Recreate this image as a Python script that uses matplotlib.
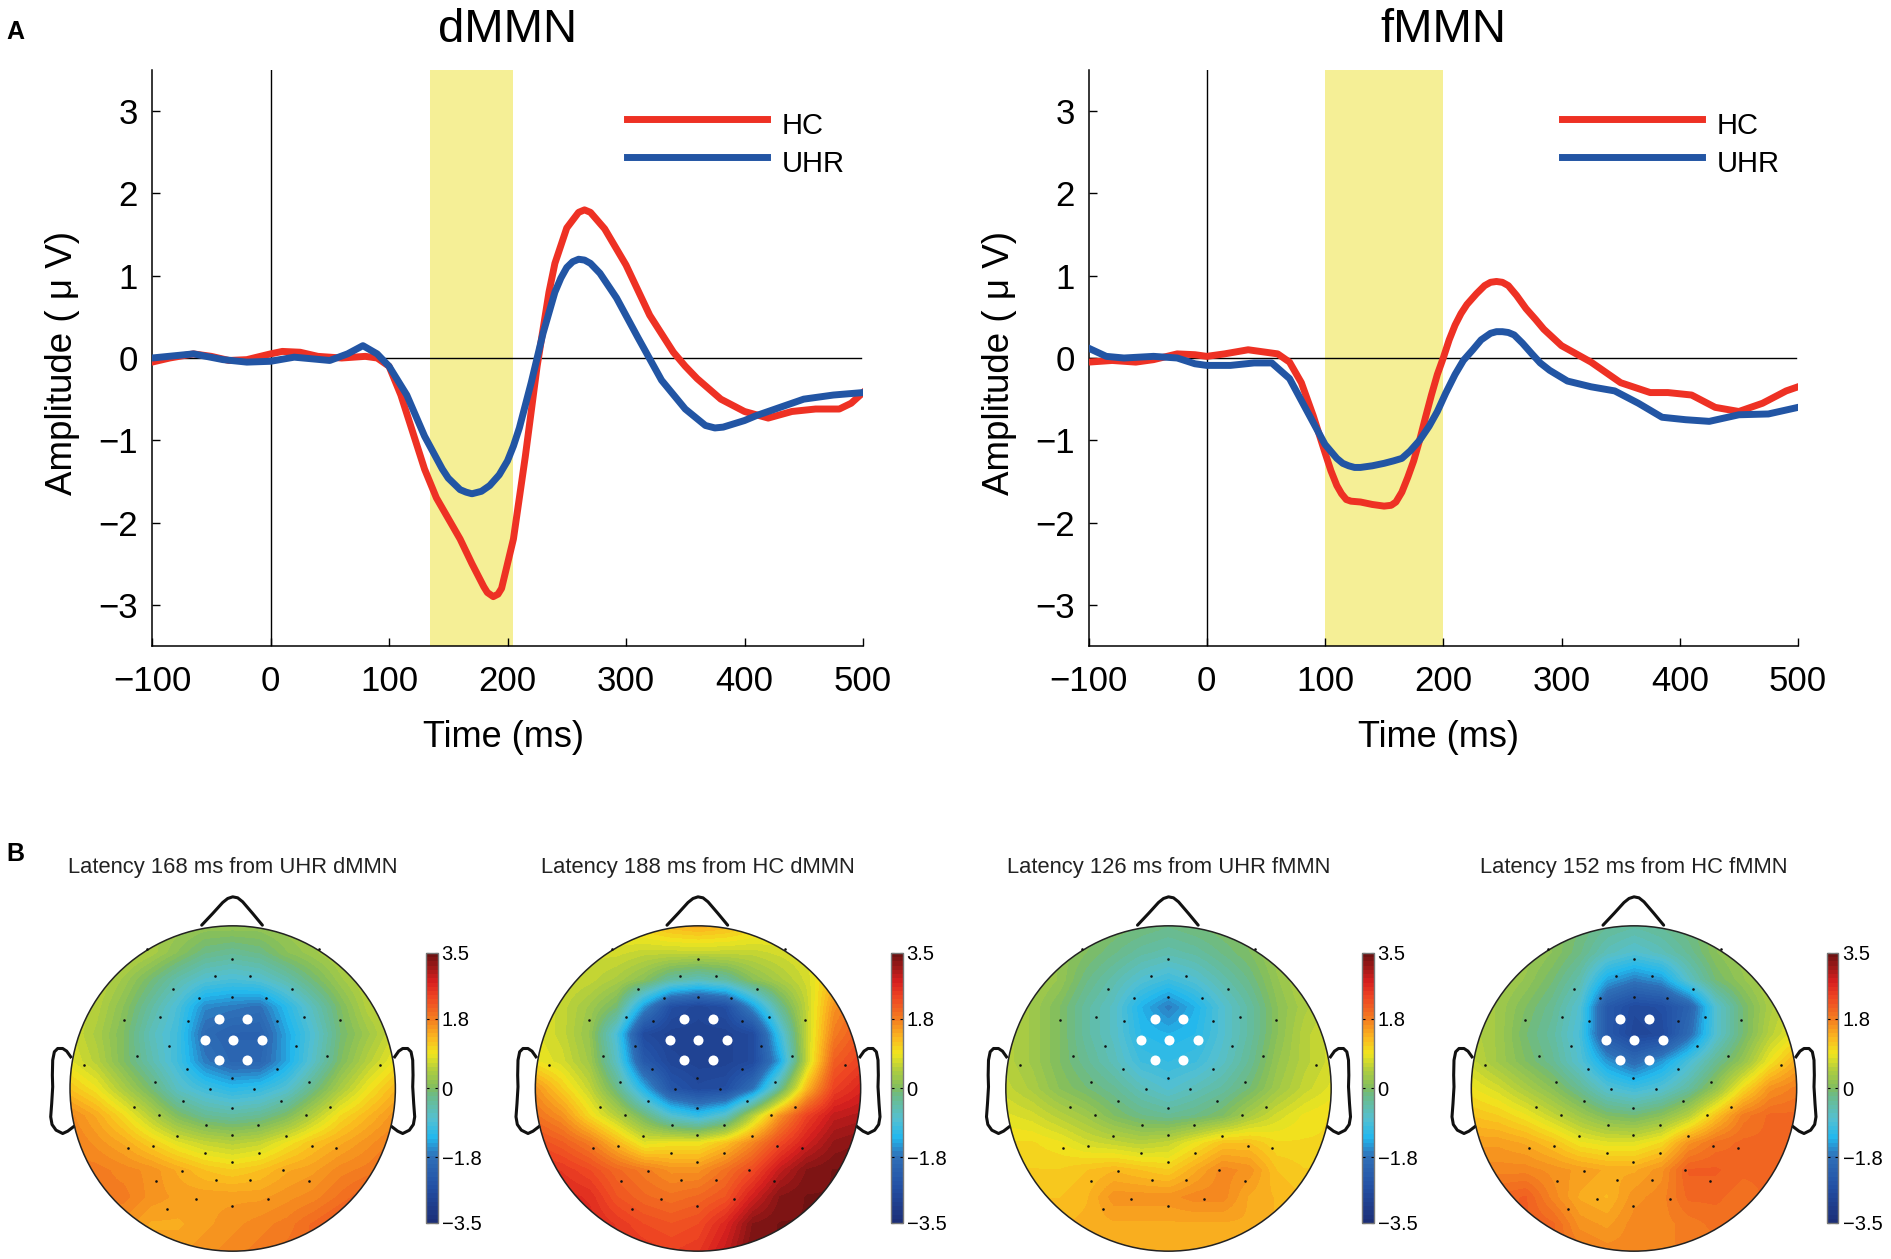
import matplotlib

matplotlib.use("Agg")

import matplotlib.pyplot as plt
import numpy as np
from matplotlib.colors import LinearSegmentedColormap
from matplotlib.patches import Circle

plt.rcParams["font.family"] = ["Liberation Sans", "DejaVu Sans"]

FIG_W = 1891
FIG_H = 1259

## waveforms
DMMN_HC_T = [-100, -85, -65, -50, -35, -20, 0, 10, 25, 40, 60, 80, 90, 100, 110, 120, 130, 140, 150, 160, 170, 180, 183, 188, 192, 195, 205, 215, 225, 235, 240, 250, 260, 265, 270, 282, 300, 320, 340, 350, 360, 380, 400, 420, 440, 460, 480, 490, 500]
DMMN_HC = [-0.05, 0, 0.05, 0.02, -0.03, -0.02, 0.05, 0.08, 0.07, 0.02, 0, 0.02, 0, -0.1, -0.45, -0.9, -1.35, -1.7, -1.95, -2.2, -2.5, -2.78, -2.85, -2.9, -2.87, -2.8, -2.2, -1.2, -0.1, 0.8, 1.15, 1.58, 1.77, 1.8, 1.77, 1.57, 1.13, 0.52, 0.07, -0.1, -0.25, -0.5, -0.65, -0.73, -0.65, -0.62, -0.62, -0.55, -0.42]
DMMN_UHR_T = [-100, -65, -40, -20, 0, 20, 50, 65, 78, 90, 100, 115, 130, 145, 150, 160, 165, 170, 178, 185, 193, 200, 205, 210, 220, 230, 240, 245, 250, 255, 260, 265, 270, 278, 292, 310, 330, 350, 367, 375, 382, 400, 410, 430, 450, 475, 500]
DMMN_UHR = [0, 0.05, -0.02, -0.05, -0.04, 0.01, -0.03, 0.05, 0.15, 0.05, -0.1, -0.45, -0.95, -1.35, -1.46, -1.6, -1.63, -1.65, -1.62, -1.55, -1.42, -1.25, -1.07, -0.85, -0.3, 0.3, 0.8, 0.97, 1.1, 1.17, 1.2, 1.19, 1.15, 1.03, 0.73, 0.25, -0.27, -0.62, -0.82, -0.85, -0.84, -0.76, -0.7, -0.6, -0.5, -0.45, -0.42]
FMMN_HC_T = [-100, -80, -60, -45, -25, -10, 0, 15, 35, 60, 70, 80, 90, 100, 105, 110, 114, 118, 122, 130, 140, 150, 156, 160, 165, 170, 175, 180, 185, 190, 195, 200, 205, 210, 215, 220, 228, 235, 240, 245, 250, 255, 262, 270, 278, 285, 300, 325, 350, 375, 390, 410, 430, 450, 470, 490, 500]
FMMN_HC = [-0.05, -0.03, -0.05, -0.02, 0.05, 0.04, 0.02, 0.05, 0.1, 0.05, -0.05, -0.3, -0.7, -1.15, -1.37, -1.55, -1.65, -1.72, -1.74, -1.75, -1.78, -1.8, -1.79, -1.75, -1.63, -1.45, -1.25, -1.0, -0.72, -0.45, -0.2, 0, 0.22, 0.4, 0.54, 0.65, 0.78, 0.88, 0.92, 0.93, 0.92, 0.88, 0.76, 0.6, 0.47, 0.35, 0.15, -0.05, -0.3, -0.42, -0.42, -0.45, -0.6, -0.65, -0.55, -0.4, -0.35]
FMMN_UHR_T = [-100, -85, -70, -45, -25, -10, 0, 20, 40, 55, 70, 85, 100, 110, 115, 120, 125, 130, 140, 150, 158, 165, 172, 180, 188, 195, 202, 210, 217, 225, 232, 240, 245, 250, 255, 260, 267, 275, 282, 290, 305, 325, 345, 365, 385, 405, 425, 450, 475, 500]
FMMN_UHR = [0.12, 0.02, 0, 0.02, 0, -0.07, -0.09, -0.09, -0.06, -0.06, -0.25, -0.65, -1.05, -1.22, -1.28, -1.31, -1.33, -1.33, -1.31, -1.28, -1.25, -1.22, -1.13, -1.0, -0.83, -0.65, -0.43, -0.2, -0.03, 0.1, 0.22, 0.3, 0.32, 0.32, 0.31, 0.28, 0.18, 0.05, -0.06, -0.15, -0.28, -0.35, -0.4, -0.55, -0.72, -0.75, -0.77, -0.69, -0.68, -0.6]

DMMN_WINDOW = [135, 205]
FMMN_WINDOW = [100, 200]

X_TICKS = [-100, 0, 100, 200, 300, 400, 500]
Y_TICKS = [-3, -2, -1, 0, 1, 2, 3]
CBAR_TICKS = [-3.5, -1.8, 0, 1.8, 3.5]

## scalp maps, coarse grid, top row is the front of the head
MAP_UHR_D = [
    [0.5, 0.5, 0.5, 0.4, 0.3, 0.2, 0.2, 0.2, 0.3, 0.4, 0.5, 0.5, 0.5],
    [0.7, 0.7, 0.6, 0.4, 0.1, -0.2, -0.3, -0.2, 0.1, 0.3, 0.5, 0.7, 0.7],
    [0.7, 0.6, 0.3, -0.1, -0.5, -0.8, -0.9, -0.8, -0.5, -0.1, 0.3, 0.6, 0.7],
    [0.7, 0.5, 0.1, -0.4, -0.9, -1.6, -1.7, -1.8, -1.2, -0.6, 0.0, 0.5, 0.7],
    [0.7, 0.4, 0.0, -0.6, -1.0, -1.9, -2.1, -2.1, -1.4, -0.8, -0.1, 0.3, 0.7],
    [0.8, 0.5, 0.0, -0.5, -1.0, -1.7, -2.0, -2.0, -1.4, -0.7, 0.0, 0.5, 0.9],
    [1.2, 0.9, 0.4, -0.1, -0.7, -1.0, -1.2, -1.1, -0.8, -0.2, 0.4, 0.9, 1.3],
    [1.7, 1.4, 1.0, 0.5, 0.0, -0.3, -0.4, -0.3, 0.0, 0.5, 1.0, 1.3, 1.6],
    [1.8, 1.6, 1.4, 1.1, 0.8, 0.6, 0.5, 0.6, 0.9, 1.2, 1.4, 1.6, 1.8],
    [1.8, 1.8, 1.7, 1.6, 1.4, 1.2, 1.1, 1.2, 1.4, 1.5, 1.7, 1.8, 2.0],
    [1.8, 1.8, 1.8, 1.6, 1.5, 1.5, 1.5, 1.5, 1.6, 1.7, 1.9, 2.1, 2.3],
    [1.7, 1.7, 1.6, 1.4, 1.4, 1.5, 1.6, 1.7, 1.8, 2.0, 2.2, 2.3, 2.3],
    [1.6, 1.6, 1.5, 1.5, 1.5, 1.6, 1.7, 1.8, 1.9, 2.0, 2.2, 2.3, 2.3],
]
MAP_HC_D = [
    [1.0, 1.0, 1.0, 1.0, 1.1, 1.3, 1.4, 1.3, 1.1, 1.0, 1.0, 1.0, 1.0],
    [0.8, 0.8, 0.7, 0.7, 0.6, 0.6, 0.6, 0.6, 0.6, 0.7, 0.8, 0.9, 1.0],
    [0.8, 0.7, 0.6, 0.4, 0.1, -0.4, -0.6, -0.4, 0.1, 0.4, 0.7, 1.3, 1.6],
    [0.8, 0.6, 0.3, -0.1, -1.5, -2.6, -2.8, -2.6, -1.5, -0.3, 0.6, 1.6, 2.0],
    [0.8, 0.6, 0.2, -0.9, -2.7, -2.9, -2.9, -2.9, -2.7, -1.0, 0.6, 1.8, 2.2],
    [0.9, 0.7, 0.3, -0.7, -2.3, -2.8, -2.9, -2.9, -2.7, -1.4, 0.6, 2.1, 2.4],
    [1.6, 1.1, 0.6, -0.2, -1.3, -2.4, -2.7, -2.6, -1.8, -0.3, 1.3, 2.4, 2.7],
    [1.9, 1.6, 1.0, 0.5, -0.1, -0.8, -1.1, -0.7, 0.5, 1.6, 2.4, 2.9, 3.0],
    [2.3, 2.1, 1.8, 1.3, 0.8, 0.9, 0.9, 1.2, 1.7, 2.3, 2.8, 3.2, 3.3],
    [2.6, 2.5, 2.3, 2.0, 1.8, 1.6, 1.6, 1.9, 2.3, 2.9, 3.3, 3.4, 3.4],
    [2.7, 2.7, 2.6, 2.2, 2.0, 1.9, 2.0, 2.2, 2.8, 3.3, 3.4, 3.4, 3.4],
    [2.7, 2.7, 2.7, 2.5, 2.3, 2.2, 2.3, 2.7, 3.3, 3.4, 3.4, 3.4, 3.4],
    [2.7, 2.7, 2.7, 2.6, 2.5, 2.4, 2.5, 2.9, 3.4, 3.4, 3.4, 3.4, 3.4],
]
MAP_UHR_F = [
    [0.3, 0.3, 0.2, 0.1, 0.0, -0.1, -0.2, -0.1, 0.0, 0.1, 0.2, 0.3, 0.3],
    [0.5, 0.4, 0.2, 0.0, -0.2, -0.4, -0.5, -0.4, -0.2, 0.0, 0.3, 0.5, 0.5],
    [0.5, 0.4, 0.2, -0.2, -0.5, -0.8, -1.0, -0.8, -0.5, -0.2, 0.2, 0.5, 0.6],
    [0.5, 0.3, 0.0, -0.4, -0.7, -1.3, -1.7, -1.3, -0.8, -0.4, 0.1, 0.4, 0.6],
    [0.5, 0.3, 0.0, -0.4, -0.7, -1.2, -1.3, -1.2, -0.8, -0.4, 0.1, 0.5, 0.7],
    [0.5, 0.3, 0.0, -0.3, -0.6, -1.0, -1.1, -1.0, -0.7, -0.3, 0.2, 0.5, 0.7],
    [0.6, 0.4, 0.1, -0.1, -0.3, -0.6, -0.8, -0.6, -0.4, -0.1, 0.3, 0.6, 0.8],
    [0.8, 0.7, 0.5, 0.3, 0.0, -0.2, -0.3, -0.2, 0.0, 0.4, 0.7, 0.9, 1.0],
    [1.0, 1.0, 0.9, 0.7, 0.6, 0.5, 0.6, 0.9, 1.2, 1.2, 1.0, 1.0, 1.0],
    [1.1, 1.1, 1.1, 1.2, 1.3, 1.2, 1.1, 1.4, 1.7, 1.6, 1.2, 1.1, 1.1],
    [1.2, 1.2, 1.2, 1.3, 1.6, 1.6, 1.6, 1.7, 1.7, 1.4, 1.3, 1.2, 1.2],
    [1.3, 1.3, 1.3, 1.35, 1.4, 1.4, 1.4, 1.4, 1.4, 1.4, 1.3, 1.3, 1.3],
    [1.35, 1.35, 1.35, 1.35, 1.35, 1.35, 1.35, 1.35, 1.35, 1.35, 1.35, 1.35, 1.35],
]
MAP_HC_F = [
    [0.3, 0.3, 0.2, 0.1, -0.1, -0.3, -0.4, -0.3, -0.1, 0.1, 0.2, 0.3, 0.3],
    [0.5, 0.4, 0.3, 0.1, -0.2, -0.6, -0.8, -0.6, -0.3, 0.1, 0.3, 0.5, 0.6],
    [0.5, 0.4, 0.2, -0.1, -0.5, -1.4, -1.7, -1.5, -0.7, -0.1, 0.2, 0.5, 0.7],
    [0.5, 0.3, 0.0, -0.3, -0.8, -2.3, -2.7, -2.6, -2.1, -0.8, -0.1, 0.4, 0.7],
    [0.5, 0.3, -0.1, -0.4, -0.9, -2.3, -2.8, -2.7, -1.9, -0.8, -0.1, 0.5, 0.9],
    [0.6, 0.3, 0.0, -0.3, -0.8, -1.5, -1.9, -1.5, -0.9, -0.3, 0.2, 0.9, 1.4],
    [0.9, 0.7, 0.4, 0.1, -0.3, -0.8, -1.0, -0.8, -0.4, 0.2, 1.0, 1.6, 1.8],
    [1.2, 1.1, 0.9, 0.6, 0.3, 0.0, -0.1, 0.1, 0.5, 1.2, 1.8, 2.0, 2.0],
    [1.5, 1.5, 1.4, 1.2, 0.9, 0.8, 0.8, 1.0, 1.6, 1.9, 2.0, 2.0, 2.1],
    [1.7, 1.7, 1.7, 1.6, 1.5, 1.4, 1.4, 1.6, 2.1, 2.1, 2.0, 2.0, 2.1],
    [1.9, 2.0, 2.1, 1.7, 1.4, 1.3, 1.6, 1.7, 2.0, 2.0, 1.9, 2.0, 2.0],
    [2.1, 2.1, 2.1, 2.0, 1.6, 1.5, 1.7, 1.7, 1.8, 1.9, 1.9, 1.9, 1.9],
    [2.1, 2.1, 2.1, 2.0, 1.8, 1.7, 1.7, 1.7, 1.8, 1.8, 1.8, 1.8, 1.8],
]

MAP_TITLES = [
    "Latency 168 ms from UHR dMMN",
    "Latency 188 ms from HC dMMN",
    "Latency 126 ms from UHR fMMN",
    "Latency 152 ms from HC fMMN",
]

## electrodes on the head, head radius is 488 units
ELEC_X = [-258, 260, -1, -53, 53, -180, 178, -102, -1, 100, -326, -217, -134, 132, 214, 322, -190, 189, -286, 283, -446, 442, -137, 133, -2, -233, 230, -68, 65, -150, 146, -2, -295, 291, -220, 219, -79, 77, -2, -166, 161, -240, 238, -315, 311, -82, 79, -2, -151, 152, -231, -50, 53, 228, -111, 107, -197, -2]
ELEC_Y = [417, 417, 387, 338, 338, 299, 299, 272, 274, 272, 204, 214, 202, 201, 214, 204, 127, 127, 96, 96, 71, 71, 58, 58, 32, 20, 20, -2, -2, -38, -38, -58, -54, -54, -78, -78, -109, -109, -139, -143, -143, -171, -171, -178, -178, -194, -194, -220, -246, -243, -278, -275, -275, -278, -330, -330, -362, -352]
ROI_X = [-41, 44, -83, 1, 87, -41, 44]
ROI_Y = [207, 207, 144, 144, 144, 85, 85]

NOSE_X = [-93, -60, -30, -15, 0, 15, 30, 60, 89]
NOSE_Y = [490, 525, 558, 570, 575, 572, 560, 525, 490]
EAR_X = [486, 498, 510, 525, 535, 540, 541, 540, 543, 546, 542, 530, 510, 495, 478]
EAR_Y = [95, 112, 120, 120, 110, 85, 40, 5, -45, -85, -108, -125, -135, -128, -115]

HEAD_R = 488

CMAP_VALUES = [-3.5, -2.6, -1.8, -1.3, -0.8, -0.2, 0, 0.5, 0.9, 1.3, 1.8, 2.4, 2.8, 3.5]
CMAP_COLORS = ["#1c2f78", "#2350a5", "#2f70b8", "#22b8ee", "#55c0d0", "#6cbb88", "#80bd60", "#b4cf3c", "#f0e61e", "#fbb91f", "#f47f20", "#ee4423", "#d8201f", "#6e1212"]


def px_axes(fig, left, top, right, bottom):
    return fig.add_axes([left / FIG_W, 1 - bottom / FIG_H, (right - left) / FIG_W, (bottom - top) / FIG_H])


def draw_erp(fig, rect, title, window, hc_t, hc, uhr_t, uhr):
    ax = px_axes(fig, *rect)
    ax.axvspan(window[0], window[1], color="#f5ef96", lw=0, zorder=1)
    ax.plot([-100, 498], [0, 0], color="black", lw=1.0, zorder=2)
    ax.plot([0, 0], [-3.5, 3.5], color="black", lw=1.0, zorder=2)
    ax.plot(hc_t, hc, color="#ee3124", lw=5, label="HC", zorder=3, solid_joinstyle="round")
    ax.plot(uhr_t, uhr, color="#2255a4", lw=5, label="UHR", zorder=4, solid_joinstyle="round")

    ax.set_xlim(-100, 500)
    ax.set_ylim(-3.5, 3.5)
    ax.set_xticks(X_TICKS)
    ax.set_yticks(Y_TICKS)
    ax.tick_params(direction="in", length=6, width=1.0, labelsize=25)
    ax.tick_params(axis="x", pad=14)
    ax.tick_params(axis="y", pad=10)
    ax.spines["top"].set_visible(False)
    ax.spines["right"].set_visible(False)
    ax.spines["left"].set_linewidth(1.1)
    ax.spines["bottom"].set_linewidth(1.1)

    ax.set_title(title, fontsize=34, pad=20)
    ax.set_xlabel("Time (ms)", fontsize=26)
    ax.xaxis.set_label_coords(0.494, -0.128)
    ax.set_ylabel("Amplitude ( μ V)", fontsize=26.5, va="center")
    ax.yaxis.set_label_coords(-0.126, 0.491)

    leg = ax.legend(
        loc="upper left",
        bbox_to_anchor=(0.668, 0.935),
        frameon=False,
        fontsize=21,
        handlelength=4.8,
        handletextpad=0.5,
        labelspacing=0.34,
        borderpad=0,
        borderaxespad=0,
    )
    for text in leg.get_texts():
        text.set_y(-5)
    return ax


def draw_head(fig, cx, cy, bar_left, title, values, cmap):
    scale = HEAD_R / 162.67  # units per pixel
    half = 610 / scale
    ax = px_axes(fig, cx - half, cy - half, cx + half, cy + half)
    ax.set_xlim(-610, 610)
    ax.set_ylim(-610, 610)
    ax.axis("off")

    cell = HEAD_R / 6
    im = ax.imshow(
        np.array(values),
        cmap=cmap,
        vmin=-3.5,
        vmax=3.5,
        interpolation="bilinear",
        extent=[-HEAD_R - cell / 2, HEAD_R + cell / 2, -HEAD_R - cell / 2, HEAD_R + cell / 2],
        origin="upper",
        aspect="equal",
        zorder=1,
    )
    ax.set_xlim(-610, 610)
    ax.set_ylim(-610, 610)
    im.set_clip_path(Circle((0, 0), HEAD_R, transform=ax.transData))
    ax.add_patch(Circle((0, 0), HEAD_R, fill=False, ec="#222222", lw=1.1, zorder=3))

    ax.plot(NOSE_X, NOSE_Y, color="#111111", lw=2.2, zorder=2, solid_capstyle="round")
    ax.plot(EAR_X, EAR_Y, color="#111111", lw=2.2, zorder=2)
    ax.plot(-np.array(EAR_X), EAR_Y, color="#111111", lw=2.2, zorder=2)
    ax.scatter(ELEC_X, ELEC_Y, s=3.5, color="#111111", lw=0, zorder=4)
    ax.scatter(ROI_X, ROI_Y, s=52, color="white", lw=0, zorder=5)

    fig.text(cx / FIG_W, 1 - 868 / FIG_H, title, fontsize=15.8, ha="center", va="center", color="#222222")

    cax = px_axes(fig, bar_left, 953, bar_left + 11.5, 1223)
    cbar = fig.colorbar(im, cax=cax)
    cbar.set_ticks(CBAR_TICKS)
    cbar.set_ticklabels(["−3.5", "−1.8", "0", "1.8", "3.5"])
    cbar.ax.tick_params(direction="in", length=2, width=0.8, labelsize=14.5, pad=3, right=True, left=True)
    cbar.outline.set_edgecolor("#777777")
    cbar.outline.set_linewidth(1.0)


def main():
    fig = plt.figure(figsize=(FIG_W / 100, FIG_H / 100), dpi=100)

    draw_erp(fig, (152, 70, 863, 646), "dMMN", DMMN_WINDOW, DMMN_HC_T, DMMN_HC, DMMN_UHR_T, DMMN_UHR)
    draw_erp(fig, (1088.5, 70, 1798, 646), "fMMN", FMMN_WINDOW, FMMN_HC_T, FMMN_HC, FMMN_UHR_T, FMMN_UHR)

    cmap = LinearSegmentedColormap.from_list(
        "scalp",
        [((v + 3.5) / 7, c) for v, c in zip(CMAP_VALUES, CMAP_COLORS)],
        N=64,
    )

    centers = [232.7, 698, 1168.5, 1634]
    bars = [426, 891, 1362, 1827]
    maps = [MAP_UHR_D, MAP_HC_D, MAP_UHR_F, MAP_HC_F]
    for cx, bar, title, values in zip(centers, bars, MAP_TITLES, maps):
        draw_head(fig, cx, 1088.5, bar, title, values, cmap)

    fig.text(6 / FIG_W, 1 - 32 / FIG_H, "A", fontsize=18, fontweight="bold", va="center")
    fig.text(6 / FIG_W, 1 - 854 / FIG_H, "B", fontsize=18, fontweight="bold", va="center")

    fig.savefig("out.png", dpi=100)
    plt.close(fig)


if __name__ == "__main__":
    main()
